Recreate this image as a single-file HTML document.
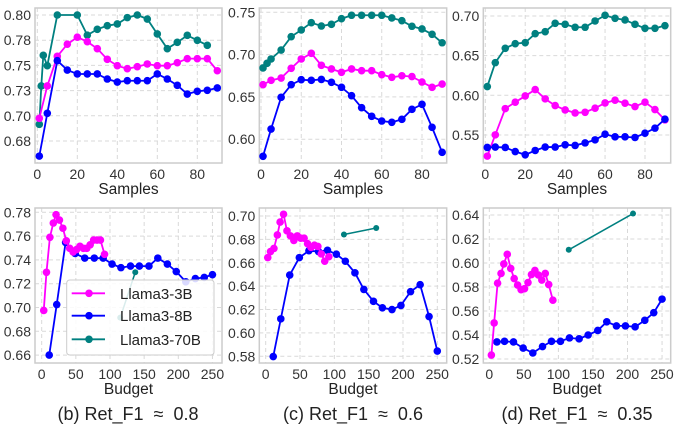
<!DOCTYPE html>
<html><head><meta charset="utf-8"><style>
html,body{margin:0;padding:0;background:#fff;}
svg{display:block;font-family:"Liberation Sans",sans-serif;}
</style></head><body>
<svg id="fig" width="679" height="436" viewBox="0 0 679 436" xmlns="http://www.w3.org/2000/svg"></svg>
<script>
// ---- data ----
const samples = [1,5,10,15,20,25,30,35,40,45,50,55,60,65,70,75,80,85,90];
const samplesTeal = [1,2,3,5,10,20,25,30,35,40,45,50,55,60,65,70,75,80,85];
const samplesB = [1,3,5,10,15,20,25,30,35,40,45,50,55,60,65,70,75,80,85,90];
const budgetSmall = [3,7,12,17,21,26,31,36,41,46,51,56,61,66,71,76,81,86,92];
const budgetLarge = [11,22,35,49,63,77,90,103,116,130,143,157,170,184,197,211,225,238,250];

const b_m = [0.6975,0.7296,0.759,0.771,0.778,0.7735,0.7666,0.756,0.7497,0.7467,0.7487,0.7514,0.7497,0.7497,0.7527,0.7567,0.7567,0.7567,0.7447];
const b_b = [0.66,0.7025,0.7547,0.7454,0.7415,0.7415,0.7415,0.7365,0.7335,0.7348,0.7348,0.7348,0.7415,0.7365,0.7302,0.7216,0.7243,0.7253,0.7276];
const b_t = [0.6915,0.7296,0.760,0.7497,0.80,0.80,0.780,0.7858,0.7894,0.7911,0.7974,0.80,0.796,0.7812,0.7666,0.7729,0.7798,0.7749,0.7699];
const b_tBudget = [115,137];
const b_tBudgetVals = [0.6915,0.7296];

const c_m = [0.6644,0.6696,0.6723,0.6838,0.6948,0.7015,0.6873,0.683,0.6791,0.683,0.681,0.681,0.6763,0.6732,0.675,0.674,0.6676,0.6613,0.6652];
const c_b = [0.5798,0.612,0.6495,0.6644,0.6703,0.6696,0.6707,0.6673,0.6613,0.6514,0.6372,0.627,0.6215,0.62,0.6235,0.6353,0.6412,0.614,0.5845];
const c_t = [0.6842,0.6897,0.6948,0.7054,0.7212,0.7291,0.7377,0.7338,0.7358,0.7424,0.7465,0.7465,0.7465,0.7465,0.7433,0.7401,0.7335,0.7303,0.724,0.714];
const c_tBudget = [114,161];
const c_tBudgetVals = [0.6842,0.6897];

const d_m = [0.5233,0.5501,0.5832,0.5913,0.5992,0.6072,0.5955,0.587,0.5816,0.5778,0.5786,0.5837,0.5904,0.5938,0.59,0.5858,0.5913,0.582,0.569];
const d_b = [0.5342,0.5347,0.5342,0.5291,0.525,0.5304,0.5347,0.5347,0.5376,0.5368,0.54,0.5438,0.551,0.5476,0.5476,0.5468,0.5522,0.5586,0.5699];
const d_t = [0.611,0.6412,0.6593,0.6651,0.6664,0.6777,0.6802,0.6908,0.6895,0.6858,0.6858,0.6937,0.7009,0.6971,0.695,0.6895,0.6845,0.6845,0.6878];
const d_tBudget = [115,208];
const d_tBudgetVals = [0.611,0.6412];

const ticksSamples = [0,20,40,60,80];
const ticksBudget = [0,50,100,150,200,250];
const yTicksBTop = [0.8,0.775,0.75,0.725,0.7,0.675];
const yLabelsBTop = ["0.80","0.78","0.75","0.73","0.70","0.68"];
const yTicksBBot = [0.78,0.76,0.74,0.72,0.70,0.68,0.66];
const yTicksCTop = [0.75,0.70,0.65,0.60];
const yTicksCBot = [0.70,0.68,0.66,0.64,0.62,0.60,0.58];
const yTicksDTop = [0.70,0.65,0.60,0.55];
const yTicksDBot = [0.64,0.62,0.60,0.58,0.56,0.54,0.52];

const MAG="#ff00ff", BLU="#0000ff", TEAL="#008080";
const NS="http://www.w3.org/2000/svg";
const svgEl=document.getElementById('fig');
function mk(tag,attrs,parent){const e=document.createElementNS(NS,tag);for(const k in attrs)e.setAttribute(k,attrs[k]);(parent||svgEl).appendChild(e);return e;}

function panel(name,cfg){
  const g=mk('g',{});
  
  
  const X=v=>cfg.x0+v*cfg.kx, Y=v=>cfg.yRef+(cfg.yRefVal-v)*cfg.ky;
  const f=cfg.frame;
  const grid=mk('g',{stroke:'#d9d9d9','stroke-width':1,'stroke-dasharray':'4,3'},g);
  
  
  cfg.xt.forEach(v=>{mk('line',{x1:X(v),x2:X(v),y1:f.t,y2:f.b},grid);
    const t=mk('text',{x:X(v),y:f.b+16,'text-anchor':'middle','font-size':14,fill:'#333'},g);t.textContent=v;
    
    });
  cfg.yt.forEach((v,i)=>{mk('line',{x1:f.l,x2:f.r,y1:Y(v),y2:Y(v)},grid);
    const t=mk('text',{x:f.l-4,y:Y(v)+5,'text-anchor':'end','font-size':14,fill:'#333'},g);
    t.textContent=cfg.yl?cfg.yl[i]:v.toFixed(2);
    
    });
  const fr=mk('rect',{x:f.l,y:f.t,width:f.r-f.l,height:f.b-f.t,fill:'none',stroke:'#cccccc','stroke-width':1.5},g);
  
  
  const xl=mk('text',{x:(f.l+f.r)/2,y:f.b+31,'text-anchor':'middle','font-size':15.5,fill:'#222'},g);
  xl.textContent=cfg.xlabel;
  
  
  cfg.series.forEach(s=>{
    const sg=mk('g',{},g);
    
    
    const pts=s.xs.map((x,i)=>X(x)+','+Y(s.ys[i])).join(' ');
    mk('polyline',{points:pts,fill:'none',stroke:s.c,'stroke-width':s.lw||1.8},sg);
    s.xs.forEach((x,i)=>{const c=mk('circle',{cx:X(x),cy:Y(s.ys[i]),r:s.r||3.8,fill:s.c},sg);
      
      });
  });
  return g;
}
const frameTop={t:8,b:163}, frameBot={t:208,b:363};
panel('panel-b-samples',{x0:37.3,kx:2.0,yRef:15,yRefVal:0.80,ky:1008,frame:{l:35,r:222,...frameTop},xt:ticksSamples,yt:yTicksBTop,yl:yLabelsBTop,xlabel:'Samples',
 series:[{name:'series-llama3-70b',xs:samplesTeal,ys:b_t,c:TEAL},{name:'series-llama3-3b',xs:samples,ys:b_m,c:MAG},{name:'series-llama3-8b',xs:samples,ys:b_b,c:BLU}]});
panel('panel-c-samples',{x0:261,kx:2.0125,yRef:12.3,yRefVal:0.75,ky:846,frame:{l:259.3,r:446.7,...frameTop},xt:ticksSamples,yt:yTicksCTop,xlabel:'Samples',
 series:[{name:'series-llama3-70b',xs:samplesB,ys:c_t,c:TEAL},{name:'series-llama3-3b',xs:samples,ys:c_m,c:MAG},{name:'series-llama3-8b',xs:samples,ys:c_b,c:BLU}]});
panel('panel-d-samples',{x0:485.3,kx:1.996,yRef:16,yRefVal:0.70,ky:793,frame:{l:483.3,r:670.7,...frameTop},xt:ticksSamples,yt:yTicksDTop,xlabel:'Samples',
 series:[{name:'series-llama3-70b',xs:samples,ys:d_t,c:TEAL},{name:'series-llama3-3b',xs:samples,ys:d_m,c:MAG},{name:'series-llama3-8b',xs:samples,ys:d_b,c:BLU}]});
panel('panel-b-budget',{x0:41.7,kx:0.683,yRef:212.3,yRefVal:0.78,ky:1190,frame:{l:35,r:222,...frameBot},xt:ticksBudget,yt:yTicksBBot,xlabel:'Budget',
 series:[{name:'series-llama3-70b',xs:b_tBudget,ys:b_tBudgetVals,c:TEAL,r:3,lw:1.5},{name:'series-llama3-8b',xs:budgetLarge,ys:b_b,c:BLU},{name:'series-llama3-3b',xs:budgetSmall,ys:b_m,c:MAG}]});
panel('panel-c-budget',{x0:265.7,kx:0.6864,yRef:216,yRefVal:0.70,ky:1169,frame:{l:259.3,r:446.7,...frameBot},xt:ticksBudget,yt:yTicksCBot,xlabel:'Budget',
 series:[{name:'series-llama3-70b',xs:c_tBudget,ys:c_tBudgetVals,c:TEAL,r:3,lw:1.5},{name:'series-llama3-8b',xs:budgetLarge,ys:c_b,c:BLU},{name:'series-llama3-3b',xs:budgetSmall,ys:c_m,c:MAG}]});
panel('panel-d-budget',{x0:489.3,kx:0.691,yRef:215,yRefVal:0.64,ky:1200,frame:{l:483.3,r:670.7,...frameBot},xt:ticksBudget,yt:yTicksDBot,xlabel:'Budget',
 series:[{name:'series-llama3-70b',xs:d_tBudget,ys:d_tBudgetVals,c:TEAL,r:3,lw:1.5},{name:'series-llama3-8b',xs:budgetLarge,ys:d_b,c:BLU},{name:'series-llama3-3b',xs:budgetSmall,ys:d_m,c:MAG}]});

// legend
const lg=mk('g',{});


mk('rect',{x:66.7,y:280,width:147.3,height:75,rx:3,fill:'#fff','fill-opacity':0.85,stroke:'#cccccc','stroke-width':1},lg);
[['Llama3-3B',MAG,293.3],['Llama3-8B',BLU,315.7],['Llama3-70B',TEAL,339.3]].forEach(e=>{
  const eg=mk('g',{},lg);
  
  
  mk('line',{x1:71.7,x2:105,y1:e[2],y2:e[2],stroke:e[1],'stroke-width':1.8},eg);
  mk('circle',{cx:89,cy:e[2],r:3.8,fill:e[1]},eg);
  const t=mk('text',{x:120,y:e[2]+5.5,'font-size':15,fill:'#222'},eg);t.textContent=e[0];
});
// subtitles
[['(b) Ret_F1 \u00a0\u2248\u00a0 0.8',128],['(c) Ret_F1 \u00a0\u2248\u00a0 0.6',353],['(d) Ret_F1 \u00a0\u2248\u00a0 0.35',577]].forEach(s=>{
  const t=mk('text',{x:s[1],y:420,'text-anchor':'middle','font-size':18,fill:'#222'});
  t.textContent=s[0];
  
  
});
</script>
</body></html>
